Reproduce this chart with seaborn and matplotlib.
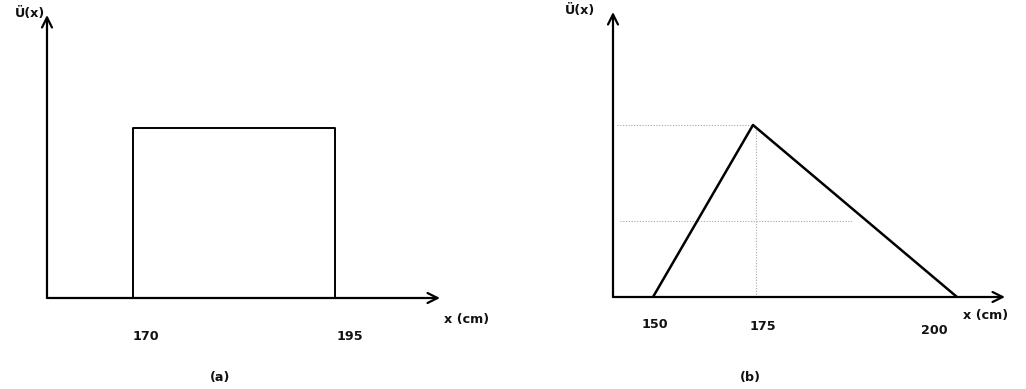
import numpy as np
import matplotlib
matplotlib.use("Agg")
import matplotlib.pyplot as plt
import seaborn as sns

sns.set_theme(style="white")
plt.rcParams["font.family"] = ["DejaVu Sans"]

# (a) crisp set: height between 170 and 195 cm
rect_x = [170, 170, 195, 195]
rect_y = [0, 1, 1, 0]
rect_ticks = [170, 195]

# (b) fuzzy set: triangular membership 150 - 175 - 200 cm
tri_x = [150, 175, 200]
tri_y = [0, 1, 0]
tri_ticks = [150, 175, 200]
guide_level = 0.44

y_label = "Ü(x)"
x_label = "x (cm)"
panel_names = ["(a)", "(b)"]

fig = plt.figure(figsize=(10.26, 3.89), dpi=100)
W, H = 1026, 389
PT = 0.72  # points per pixel at 100 dpi


def px_axes(x0, y_top, x1, y_bot):
    return fig.add_axes([x0 / W, 1 - y_bot / H, (x1 - x0) / W, (y_bot - y_top) / H])


def draw_axes_arrows(ax):
    for sp in ax.spines.values():
        sp.set_visible(False)
    ax.set_xticks([])
    ax.set_yticks([])
    ax.patch.set_alpha(0)
    kw = dict(arrowstyle="->,head_length=0.6,head_width=0.3", lw=1.6, color="black",
              shrinkA=0, shrinkB=0)
    ax.annotate("", xy=(1, 0), xytext=(0, 0), xycoords="axes fraction",
                arrowprops=kw, annotation_clip=False)
    ax.annotate("", xy=(0, 1), xytext=(0, 0), xycoords="axes fraction",
                arrowprops=kw, annotation_clip=False)


txt = dict(fontsize=9.2, fontweight="bold", color="#111111")

# ---------- panel (a) ----------
axa = px_axes(47, 15, 440, 298)
axa.set_xlim(159.4, 208)
axa.set_ylim(0, 1.665)
sns.lineplot(x=rect_x, y=rect_y, sort=False, estimator=None, color="black",
             lw=1.4, ax=axa)
draw_axes_arrows(axa)
for v, dx in zip(rect_ticks, [13, 15]):
    axa.annotate(str(v), xy=(v, 0), xycoords=("data", "axes fraction"),
                 xytext=(dx * PT, -39 * PT), textcoords="offset points",
                 ha="center", va="center", **txt)
axa.annotate(y_label, xy=(0, 1), xycoords="axes fraction", xytext=(-17 * PT, 1),
             textcoords="offset points", ha="center", va="center", **txt)
axa.annotate(x_label, xy=(1, 0), xycoords="axes fraction", xytext=(27 * PT, -22 * PT),
             textcoords="offset points", ha="center", va="center", **txt)
fig.text(220 / W, 1 - 378 / H, panel_names[0], ha="center", va="center", **txt)

# ---------- panel (b) ----------
# schematic (not to scale) horizontal axis: piecewise-linear mapping
bx = np.array([140.0, 150.0, 175.0, 200.0, 206.0])
bp = np.array([0.0, 40.0, 140.0, 344.0, 392.0])


def fwd(x):
    return np.interp(x, bx, bp)


def inv(p):
    return np.interp(p, bp, bx)


axb = px_axes(613, 12, 1005, 297)
axb.set_xscale("function", functions=(fwd, inv))
axb.set_xlim(140, 206)
axb.set_ylim(0, 1.657)
dot = dict(color="#a8a8a8", lw=0.8, ls=(0, (1, 1.5)))
axb.plot([141, 175], [1, 1], **dot)
axb.plot([175.4, 175.4], [0, 0.98], **dot)
axb.plot([141.75, 187.1], [guide_level, guide_level], **dot)
sns.lineplot(x=tri_x, y=tri_y, sort=False, estimator=None, color="black",
             lw=1.8, ax=axb)
draw_axes_arrows(axb)
for v, dx, dy in zip(tri_ticks, [2, 10, -23], [28, 30, 33]):
    axb.annotate(str(v), xy=(v, 0), xycoords=("data", "axes fraction"),
                 xytext=(dx * PT, -dy * PT), textcoords="offset points",
                 ha="center", va="center", **txt)
axb.annotate(y_label, xy=(0, 1), xycoords="axes fraction", xytext=(-33 * PT, 1),
             textcoords="offset points", ha="center", va="center", **txt)
axb.annotate(x_label, xy=(1, 0), xycoords="axes fraction", xytext=(-19 * PT, -19 * PT),
             textcoords="offset points", ha="center", va="center", **txt)
fig.text(750 / W, 1 - 378 / H, panel_names[1], ha="center", va="center", **txt)

fig.savefig("out.png", dpi=100, facecolor="white")
